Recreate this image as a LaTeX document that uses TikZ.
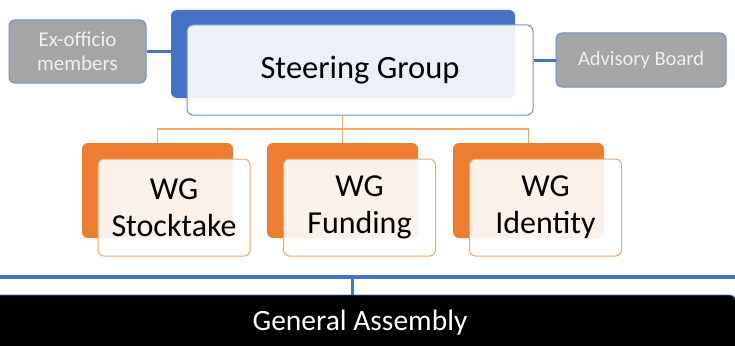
\documentclass[tikz,border=0pt]{standalone}
\usepackage{fontspec}
\setmainfont{Carlito}
\definecolor{sgblue}{HTML}{4472C4}
\definecolor{sgedge}{HTML}{6F90D0}
\definecolor{wgorange}{HTML}{ED7D31}
\definecolor{wgedge}{HTML}{F4A46E}
\definecolor{sidegray}{HTML}{A5A5A5}
\begin{document}
\begin{tikzpicture}[x=1pt,y=-1pt,
	backbox/.style={rounded corners=6pt,inner sep=0pt},
	frontbox/.style={rounded corners=6pt,inner sep=0pt,fill=white,fill opacity=0.9,text opacity=1,line width=1pt,align=center},
	wgback/.style={backbox,fill=wgorange,minimum width=151pt,minimum height=95pt},
	wgfront/.style={frontbox,draw=wgedge,minimum width=152pt,minimum height=97pt,font=\fontsize{32}{37}\selectfont},
	sidebox/.style={rounded corners=6pt,fill=sidegray,draw=sgedge,line width=1pt,text=white!95!black,align=center},
	blueline/.style={sgblue,line width=3pt},
	orangeline/.style={wgedge,line width=1.2pt}]
	\useasboundingbox (0,0) rectangle (735,345);

	\node[backbox,fill=sgblue,minimum width=344pt,minimum height=88pt] (sgback) at (343,54) {};
	\node[frontbox,draw=sgedge,minimum width=346pt,minimum height=90pt,font=\fontsize{32.5}{36}\selectfont] (sg) at (360,70) {Steering Group};

	\node[sidebox,minimum width=137pt,minimum height=63pt,font=\fontsize{21}{24}\selectfont] (exof) at (77.5,51.5) {Ex-officio\\members};
	\node[sidebox,minimum width=170pt,minimum height=54pt,font=\fontsize{20.5}{24}\selectfont] (adv) at (641,60) {Advisory Board};
	\draw[blueline] (exof.east) -- (exof.east -| sgback.west);
	\draw[blueline] (adv.west) -- (adv.west -| sg.east);

	\node[wgback] (stockback) at (157.5,190.5) {};
	\node[wgback] (fundback) at (342.5,190.5) {};
	\node[wgback] (identback) at (528.5,190.5) {};
	\node[wgfront] (stock) at (174,207.5) {WG\\Stocktake};
	\node[wgfront] (fund) at (359.5,207.5) {WG\\Funding};
	\node[wgfront] (ident) at (545.5,207.5) {WG\\Identity};

	\coordinate (split) at (342.5,129);
	\draw[orangeline] (fundback.north) -- (fundback.north |- sg.south);
	\draw[orangeline] (stockback.north) |- (split) -| (identback.north);

	\node[rounded corners=6pt,fill=black,draw=sgblue,line width=0.8pt,minimum width=751pt,minimum height=56pt,text=white,font=\fontsize{29.5}{32}\selectfont] (ga) at (360,323) {General Assembly};
	\coordinate (busl) at (0,277);
	\coordinate (busr) at (735,277);
	\coordinate (tap) at (352,277);
	\draw[sgblue,line width=4pt] (busl) -- (busr);
	\draw[blueline] (tap) -- (tap |- ga.north);
\end{tikzpicture}
\end{document}
